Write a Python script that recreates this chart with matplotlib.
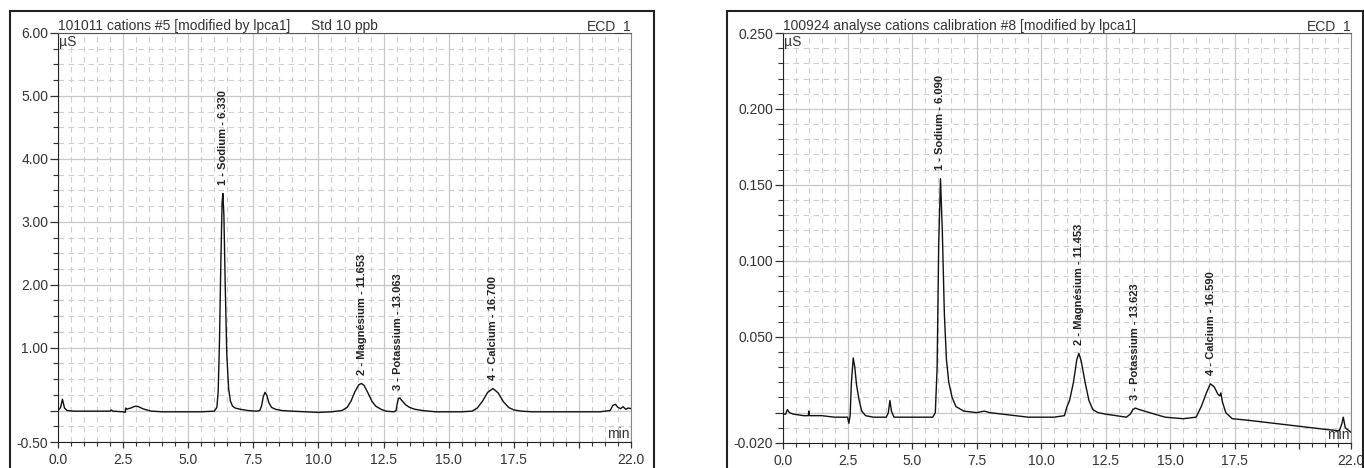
import numpy as np
import matplotlib
matplotlib.use('Agg')
import matplotlib.pyplot as plt
from matplotlib.patches import Rectangle
from matplotlib.ticker import FixedLocator, FixedFormatter

plt.rcParams['font.family'] = ['Liberation Sans', 'DejaVu Sans']

# left chromatogram (Std 10 ppb), time in min, signal in uS
t_left = [0.0, 0.1, 0.17, 0.25, 0.35, 0.6, 1.0, 1.5, 2.0, 2.05, 2.1, 2.5, 2.58, 2.6, 2.65,
          2.7, 2.8, 2.9, 3.0, 3.1, 3.25, 3.4, 3.6, 4.0, 4.5, 5.0, 5.5, 6.0, 6.1, 6.15,
          6.2, 6.25, 6.3, 6.33, 6.37, 6.42, 6.48, 6.55, 6.62, 6.7, 6.8, 7.0, 7.3, 7.6, 7.75,
          7.82, 7.88, 7.95, 8.02, 8.1, 8.2, 8.35, 8.6, 9.0, 9.5, 10.0, 10.5, 10.9, 11.1, 11.25,
          11.4, 11.55, 11.65, 11.75, 11.9, 12.05, 12.2, 12.4, 12.6, 12.9, 12.98, 13.03, 13.07, 13.12, 13.2,
          13.35, 13.5, 13.7, 14.0, 14.5, 15.0, 15.5, 15.9, 16.1, 16.3, 16.5, 16.7, 16.9, 17.1, 17.3,
          17.5, 17.8, 18.2, 19.0, 20.0, 20.8, 21.2, 21.3, 21.4, 21.5, 21.6, 21.7, 21.8, 21.9, 22.0]
y_left = [0.0, 0.05, 0.18, 0.04, 0.0, -0.01, -0.01, -0.01, -0.01, 0.01, -0.01, -0.02, -0.03, 0.04, 0.02,
          0.03, 0.04, 0.06, 0.07, 0.06, 0.03, 0.01, -0.01, -0.02, -0.02, -0.02, -0.02, -0.01, 0.05, 0.3,
          1.1, 2.3, 3.3, 3.45, 3.1, 2.0, 0.9, 0.35, 0.15, 0.07, 0.04, 0.02, 0.0, -0.01, 0.0,
          0.08, 0.22, 0.29, 0.24, 0.12, 0.05, 0.02, 0.0, -0.01, -0.02, -0.03, -0.02, 0.0, 0.05, 0.15,
          0.3, 0.41, 0.43, 0.4, 0.28, 0.15, 0.07, 0.02, -0.01, -0.02, 0.0, 0.12, 0.19, 0.2, 0.16,
          0.09, 0.05, 0.02, 0.0, -0.02, -0.02, -0.02, -0.01, 0.04, 0.15, 0.29, 0.35, 0.28, 0.14, 0.05,
          0.01, -0.01, -0.02, -0.02, -0.02, -0.02, 0.0, 0.08, 0.1, 0.05, 0.03, 0.06, 0.02, 0.04, 0.03]

# right chromatogram (calibration #8)
t_right = [0.0, 0.1, 0.17, 0.25, 0.4, 0.8, 0.98, 1.0, 1.02, 1.5, 2.0, 2.5, 2.55, 2.6, 2.65,
           2.72, 2.78, 2.85, 2.95, 3.05, 3.2, 3.5, 4.0, 4.08, 4.14, 4.2, 4.3, 5.0, 5.8, 5.9,
           5.97, 6.03, 6.1, 6.17, 6.25, 6.33, 6.42, 6.55, 6.7, 7.0, 7.5, 7.8, 8.0, 8.5, 9.0,
           9.5, 10.0, 10.5, 10.9, 11.0, 11.1, 11.25, 11.38, 11.46, 11.55, 11.7, 11.85, 12.0, 12.2, 12.5,
           12.9, 13.3, 13.45, 13.55, 13.65, 13.8, 14.2, 14.8, 15.5, 16.0, 16.2, 16.4, 16.55, 16.7, 16.85,
           16.92, 16.96, 17.02, 17.15, 17.4, 18.0, 19.0, 20.0, 21.0, 21.55, 21.65, 21.7, 21.78, 22.0]
y_right = [-0.001, -0.001, 0.002, 0.0, -0.001, -0.002, -0.002, 0.001, -0.002, -0.002, -0.003, -0.003, -0.007, -0.002, 0.02,
           0.036, 0.03, 0.018, 0.008, 0.001, -0.002, -0.003, -0.003, 0.0, 0.008, 0.001, -0.003, -0.003, -0.003, 0.0,
           0.03, 0.11, 0.154, 0.12, 0.065, 0.035, 0.02, 0.01, 0.004, 0.001, 0.0, 0.001, 0.0, -0.001, -0.002,
           -0.003, -0.003, -0.003, -0.002, 0.004, 0.008, 0.02, 0.035, 0.039, 0.034, 0.02, 0.008, 0.002, 0.0, -0.001,
           -0.002, -0.003, -0.001, 0.002, 0.003, 0.002, 0.0, -0.003, -0.004, -0.003, 0.004, 0.013, 0.019, 0.017, 0.012,
           0.011, 0.013, 0.007, 0.0, -0.004, -0.005, -0.007, -0.009, -0.011, -0.012, -0.007, -0.003, -0.01, -0.013]

labels_left = ['1 - Sodium - 6.330', '2 - Magnésium - 11.653', '3 - Potassium - 13.063', '4 - Calcium - 16.700']
rt_left = [6.33, 11.653, 13.063, 16.70]
labels_right = ['1 - Sodium - 6.090', '2 - Magnésium - 11.453', '3 - Potassium - 13.623', '4 - Calcium - 16.590']
rt_right = [6.09, 11.453, 13.623, 16.59]

title_left = '101011 cations #5 [modified by lpca1]'
title_right = '100924 analyse cations calibration #8 [modified by lpca1]'

xmaj = [0.0, 2.5, 5.0, 7.5, 10.0, 12.5, 15.0, 17.5, 20.0, 22.0]
xlab = ['0.0', '2.5', '5.0', '7.5', '10.0', '12.5', '15.0', '17.5', '', '22.0']
ymaj_left = [-0.5, 0, 1, 2, 3, 4, 5, 6]
ylab_left = ['-0.50', '', '1.00', '2.00', '3.00', '4.00', '5.00', '6.00']
ymaj_right = [-0.02, 0, 0.05, 0.1, 0.15, 0.2, 0.25]
ylab_right = ['-0.020', '', '0.050', '0.100', '0.150', '0.200', '0.250']

fig = plt.figure(figsize=(13.64, 4.68), dpi=100)
W, H = 1364.0, 468.0

# outer frames of the two report panels
fig.add_artist(Rectangle((10/W, -0.02), 644/W, 1.02 - 11/H, transform=fig.transFigure,
                         fill=False, lw=1.5, ec='#222222'))
fig.add_artist(Rectangle((727/W, -0.02), 636/W, 1.02 - 11/H, transform=fig.transFigure,
                         fill=False, lw=1.5, ec='#222222'))

FS = 10


def chrom(ax, t, y, ymaj, ylab, ymin_step, labels, rts, title, extra=None):
    t = np.array(t)
    y = np.array(y)
    ax.plot(t, y, '-', color='#111111', lw=1.0, zorder=3)
    ax.set_xlim(0, 22)
    ax.set_ylim(ymaj[0], ymaj[-1])

    ax.xaxis.set_major_locator(FixedLocator(xmaj))
    ax.xaxis.set_major_formatter(FixedFormatter(xlab))
    ax.xaxis.set_minor_locator(FixedLocator(np.arange(0, 22.01, 0.5)))
    ax.yaxis.set_major_locator(FixedLocator(ymaj))
    ax.yaxis.set_major_formatter(FixedFormatter(ylab))
    ax.yaxis.set_minor_locator(FixedLocator(np.arange(ymaj[0], ymaj[-1] + ymin_step/2, ymin_step)))

    ax.grid(which='major', color='#c8c8c8', lw=0.9, ls='-', zorder=0)
    ax.grid(which='minor', color='#cfcfcf', lw=0.8, ls=(0, (5, 4)), zorder=0)
    ax.set_axisbelow(True)

    ax.tick_params(which='major', direction='out', length=6, width=0.9, colors='#333333',
                   labelsize=FS, pad=1.0)
    ax.tick_params(which='minor', direction='out', length=3.5, width=0.8, colors='#333333')
    ax.tick_params(axis='x', which='major', length=4, pad=4)
    ax.tick_params(axis='x', which='minor', length=3)
    ax.spines['left'].set_color('#222222')
    ax.spines['bottom'].set_color('#222222')
    ax.spines['top'].set_color('#555555')
    ax.spines['right'].set_color('#888888')

    for lab, rt in zip(labels, rts):
        near = np.abs(t - rt) < 0.15
        top = y[near].max()
        ax.annotate(lab, xy=(rt, top), xytext=(0, 6), textcoords='offset points',
                    rotation=90, ha='center', va='bottom', fontsize=8, fontweight='bold',
                    color='#222222')

    ax.text(0.0, 1.0, title, transform=ax.transAxes, ha='left', va='bottom',
            fontsize=FS, color='#333333')
    if extra is not None:
        ax.text(0.4415, 1.0, extra, transform=ax.transAxes, ha='left', va='bottom',
                fontsize=FS, color='#333333')
    ax.text(1.0, 1.0, 'ECD_1', transform=ax.transAxes, ha='right', va='bottom',
            fontsize=FS, color='#333333')
    ax.text(0.002, 0.995, 'µS', transform=ax.transAxes, ha='left', va='top',
            fontsize=FS, color='#333333')
    ax.text(0.998, 0.003, 'min', transform=ax.transAxes, ha='right', va='bottom',
            fontsize=FS, color='#333333')


ax1 = fig.add_axes([58/W, 1 - 442/H, 573/W, 409/H])
chrom(ax1, t_left, y_left, ymaj_left, ylab_left, 0.25, labels_left, rt_left, title_left, 'Std 10 ppb')

ax2 = fig.add_axes([783/W, 1 - 443/H, 568/W, 410/H])
chrom(ax2, t_right, y_right, ymaj_right, ylab_right, 0.01, labels_right, rt_right, title_right)

fig.savefig('out.png', dpi=100)
